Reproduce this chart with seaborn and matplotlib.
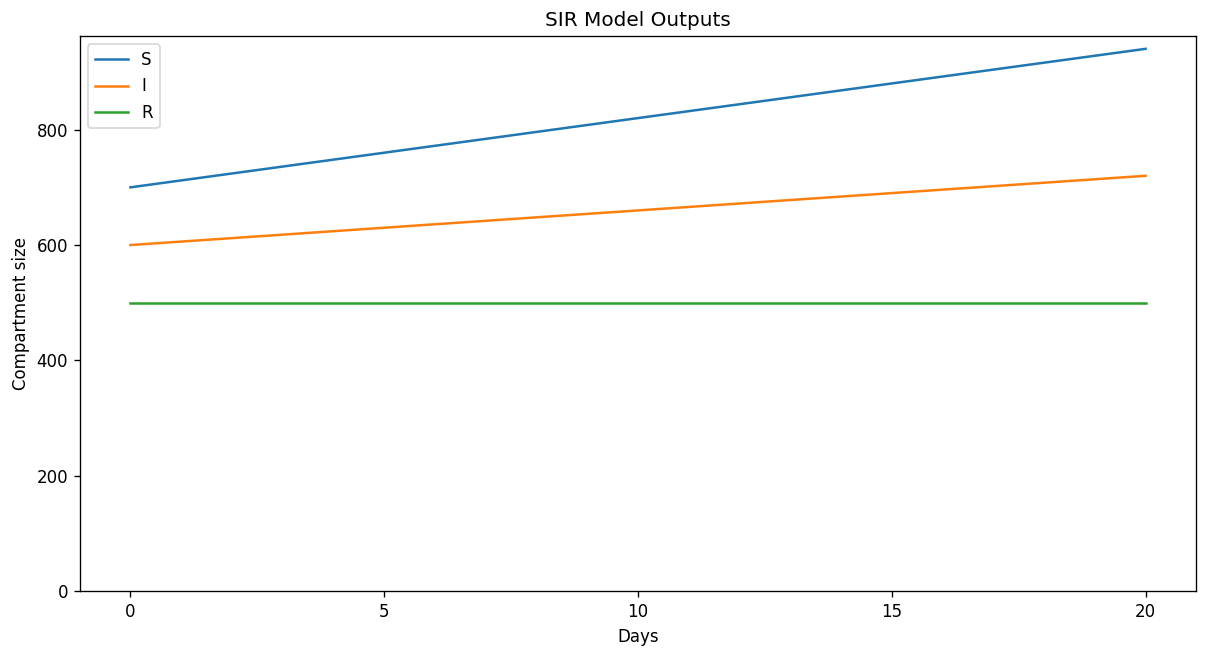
import numpy as np
import pandas as pd
import matplotlib
matplotlib.use("Agg")
import matplotlib.pyplot as plt
import seaborn as sns

days = list(range(21))
s_vals = [700, 712, 724, 736, 748, 760, 772, 784, 796, 808, 820,
          832, 844, 856, 868, 880, 892, 904, 916, 928, 940]
i_vals = [600, 606, 612, 618, 624, 630, 636, 642, 648, 654, 660,
          666, 672, 678, 684, 690, 696, 702, 708, 714, 720]
r_vals = [500] * 21

df = pd.DataFrame({"Days": days, "S": s_vals, "I": i_vals, "R": r_vals})

fig, ax = plt.subplots(figsize=(10.06, 5.475), dpi=120)
for col, c in zip(["S", "I", "R"], ["#1f77b4", "#ff7f0e", "#2ca02c"]):
    sns.lineplot(data=df, x="Days", y=col, label=col, color=c, ax=ax)

ax.set_ylim(bottom=0)
ax.set_xticks([0, 5, 10, 15, 20])
ax.set_xlabel("Days")
ax.set_ylabel("Compartment size")
ax.set_title("SIR Model Outputs")
ax.legend(loc="upper left")
fig.subplots_adjust(left=0.066, right=0.991, top=0.945, bottom=0.10)
fig.savefig("out.png", dpi=120)
